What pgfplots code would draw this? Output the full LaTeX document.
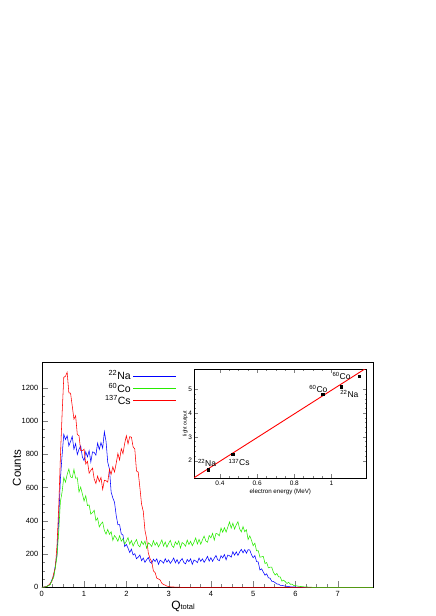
\documentclass[border=0pt]{standalone}
\usepackage{fontspec}
\setmainfont{Liberation Sans}
\usepackage{pgfplots}
\usepackage{pgfplotstable}
\pgfplotsset{compat=1.18}

\definecolor{rootred}{RGB}{255,0,0}
\definecolor{rootgreen}{RGB}{40,235,0}
\definecolor{rootblue}{RGB}{0,0,255}

% charge spectra: x, 22Na, 60Co, 137Cs
\pgfplotstableread{
x na co cs
0.00 0 0 0
0.04 1 1 1
0.08 3 2 3
0.12 6 5 6
0.16 12 10 12
0.20 20 16 24
0.24 46 43 36
0.28 68 57 82
0.32 132 117 117
0.36 198 186 255
0.40 410 334 480
0.44 650 515 783
0.48 794 573 1041
0.52 919 660 1262
0.56 888 632 1268
0.60 911 678 1292
0.64 850 711 1168
0.68 876 664 1167
0.72 907 658 1090
0.76 830 709 1011
0.80 863 655 1031
0.84 798 658 918
0.88 829 573 911
0.92 850 602 821
0.96 783 560 821
1.00 761 519 830
1.04 815 550 741
1.08 784 491 757
1.12 821 495 686
1.16 753 439 703
1.20 814 449 716
1.24 810 463 650
1.28 794 401 624
1.32 867 416 668
1.36 828 363 635
1.40 870 381 660
1.44 836 392 588
1.48 935 341 643
1.52 876 320 640
1.56 751 348 632
1.60 711 318 709
1.64 573 334 679
1.68 537 282 724
1.72 511 311 693
1.76 432 297 745
1.80 376 277 804
1.84 377 310 765
1.88 321 277 833
1.92 314 292 803
1.96 245 260 864
2.00 258 277 911
2.04 235 298 862
2.08 209 259 905
2.12 229 281 902
2.16 194 248 844
2.20 202 270 831
2.24 171 287 699
2.28 181 253 693
2.32 194 243 600
2.36 160 276 499
2.40 176 257 457
2.44 150 278 343
2.48 166 235 292
2.52 179 267 205
2.56 152 259 173
2.60 144 245 154
2.64 169 280 98
2.68 155 253 89
2.72 171 270 55
2.76 138 243 50
2.80 163 262 44
2.84 156 285 24
2.88 145 248 17
2.92 172 272 13
2.96 151 241 7
3.00 165 264 5
3.04 144 282 3
3.08 158 249 2
3.12 176 240 2
3.16 147 273 1
3.20 166 257 1
3.24 142 278 1
3.28 160 236 0
3.32 173 269 0
3.36 149 261 0
3.40 141 247 0
3.44 167 284 0
3.48 154 257 0
3.52 171 276 0
3.56 138 250 0
3.60 164 271 0
3.64 158 296 0
3.68 148 260 0
3.72 176 288 0
3.76 156 259 0
3.80 171 285 0
3.84 150 308 0
3.88 167 278 0
3.92 186 271 0
3.96 157 311 0
4.00 178 297 0
4.04 156 324 0
4.08 175 284 0
4.12 191 324 0
4.16 166 320 0
4.20 160 310 0
4.24 190 356 0
4.28 177 331 0
4.32 197 358 0
4.36 165 332 0
4.40 194 362 0
4.44 190 393 0
4.48 181 355 0
4.52 214 385 0
4.56 193 350 0
4.60 213 376 0
4.64 192 394 0
4.68 213 351 0
4.72 228 333 0
4.76 207 365 0
4.80 226 334 0
4.84 205 346 0
4.88 226 287 0
4.92 224 309 0
4.96 196 283 0
5.00 178 250 0
5.04 190 265 0
5.08 155 219 0
5.12 152 220 0
5.16 104 181 0
5.20 111 183 0
5.24 92 186 0
5.28 73 143 0
5.32 81 149 0
5.36 57 117 0
5.40 55 121 0
5.44 36 121 0
5.48 35 90 0
5.52 28 74 0
5.56 20 83 0
5.60 19 63 0
5.64 12 63 0
5.68 12 37 0
5.72 9 43 0
5.76 7 34 0
5.80 6 23 0
5.84 4 30 0
5.88 3 18 0
5.92 3 19 0
5.96 2 11 0
6.00 2 10 0
6.04 1 8 0
6.08 1 6 0
6.12 1 5 0
6.16 0 4 0
6.20 0 3 0
6.24 0 2 0
6.28 0 2 0
6.32 0 1 0
6.36 0 1 0
6.40 0 0 0
7.83 0 0 0
}\spectra

\begin{document}
\begin{tikzpicture}[x=1pt,y=1pt]
\useasboundingbox (0,0) rectangle (436,-616);

\begin{axis}[
    at={(41.8pt,-587.3pt)}, anchor=south west,
    scale only axis, width=331pt, height=225pt,
    xmin=0, xmax=7.83, ymin=0, ymax=1352,
    xtick={0,...,7}, minor x tick num=3,
    ytick={0,200,...,1200}, minor y tick num=3,
    xtick pos=left, ytick pos=left, tick align=inside,
    major tick length=6pt, minor tick length=3pt,
    tick label style={font=\fontsize{7.5}{8}\selectfont},
    /pgf/number format/assume math mode=true,
    scaled ticks=false,
    yticklabel style={/pgf/number format/1000 sep={}},
    xlabel={{\fontsize{12}{12}\selectfont Q}{\fontsize{7.5}{8}\selectfont total}},
    xlabel style={at={(axis description cs:0.4266,-0.083)}, anchor=center},
    ylabel={\fontsize{11.5}{12}\selectfont Counts},
    ylabel style={at={(axis description cs:-0.075,0.53)}, anchor=center},
    legend plot pos=right, legend cell align=right,
    legend image code/.code={\draw[#1,line width=1.1pt] (0pt,0pt) -- (43pt,0pt);},
    legend style={draw=none, fill=none, inner sep=0pt, row sep=-2.5pt,
        font=\fontsize{10.5}{11}\selectfont,
        at={(axis description cs:0.4085,0.972)}, anchor=north east},
]
\addlegendimage{rootblue}
\addlegendentry{\textsuperscript{22}Na}
\addlegendimage{rootgreen}
\addlegendentry{\textsuperscript{60}Co}
\addlegendimage{rootred}
\addlegendentry{\textsuperscript{137}Cs}
\addplot[rootblue, line width=0.55pt, forget plot] table[x=x, y=na] {\spectra};
\addplot[rootred, line width=0.55pt, forget plot] table[x=x, y=cs] {\spectra};
\addplot[rootgreen, line width=0.55pt, forget plot] table[x=x, y=co] {\spectra};
\end{axis}

% inset: light output vs electron energy
\begin{axis}[
    at={(194pt,-478pt)}, anchor=south west,
    scale only axis, width=172.7pt, height=109pt,
    xmin=0.26, xmax=1.19, ymin=1.27, ymax=5.85,
    axis background/.style={fill=white},
    xtick={0.4,0.6,0.8,1}, minor x tick num=3,
    ytick={2,3,4,5}, minor y tick num=4,
    tick align=inside, major tick length=4pt, minor tick length=2pt,
    tick label style={font=\fontsize{6.5}{7}\selectfont},
    /pgf/number format/assume math mode=true,
    xticklabel style={yshift=1pt},
    yticklabel style={xshift=1.5pt},
    xlabel={\fontsize{6.2}{7}\selectfont electron energy (MeV)},
    xlabel style={at={(axis description cs:0.5,-0.125)}, anchor=center},
    ylabel={\fontsize{5.2}{6}\selectfont light output},
    ylabel style={at={(axis description cs:-0.05,0.5)}, anchor=center},
]
\addplot[rootred, line width=0.9pt] coordinates {(0.26,1.28) (1.19,5.90)};
\addplot[only marks, mark=square*, mark size=1.2pt, black] coordinates {
    (0.337,1.62) (0.469,2.26) (0.953,4.78) (1.054,5.10) (1.15,5.55)
};
\node[font=\fontsize{8.5}{9}\selectfont] at (axis cs:0.33,1.90) {\textsuperscript{22}Na};
\node[font=\fontsize{8.5}{9}\selectfont] at (axis cs:0.503,1.92) {\textsuperscript{137}Cs};
\node[font=\fontsize{8.5}{9}\selectfont] at (axis cs:0.93,5.01) {\textsuperscript{60}Co};
\node[font=\fontsize{8.5}{9}\selectfont] at (axis cs:1.055,5.55) {\textsuperscript{60}Co};
\node[font=\fontsize{8.5}{9}\selectfont] at (axis cs:1.097,4.79) {\textsuperscript{22}Na};
\end{axis}
\end{tikzpicture}
\end{document}
